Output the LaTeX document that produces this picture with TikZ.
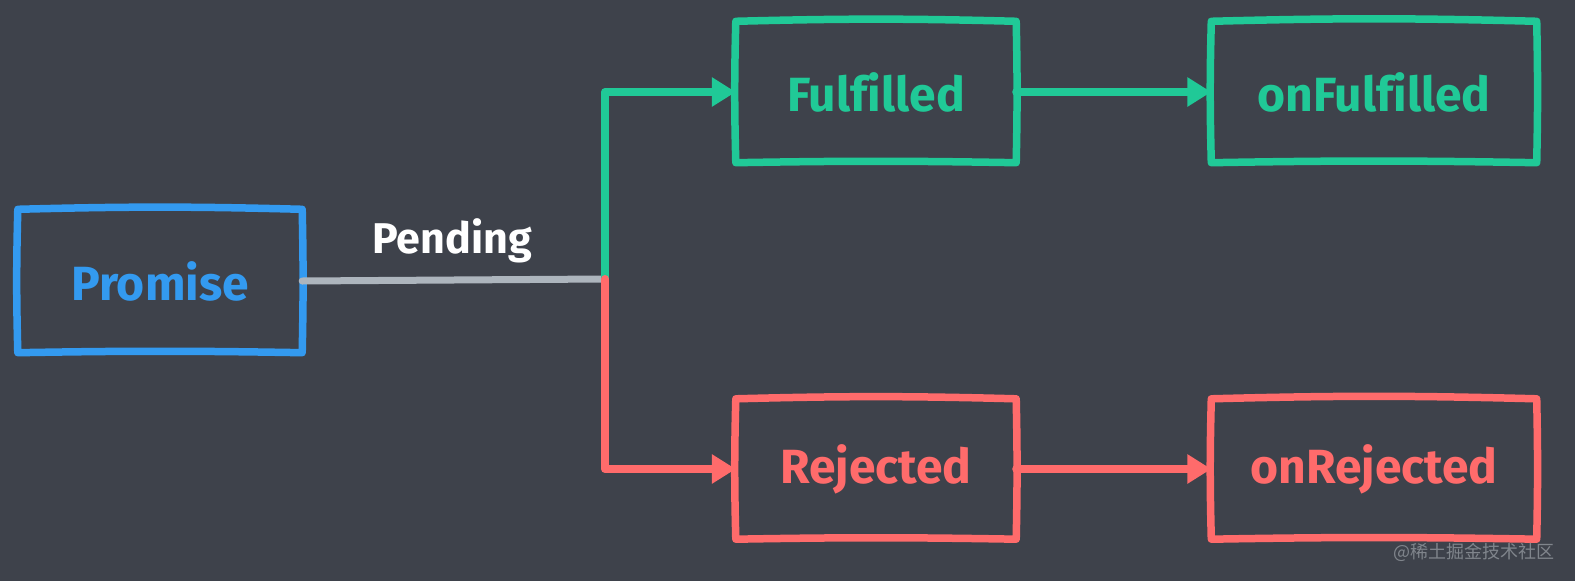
\documentclass[tikz,border=0pt]{standalone}
\usepackage{fontspec}
\setmainfont{Fira Sans}[Ligatures=NoCommon]
\newfontfamily\cjkfont{Noto Sans CJK SC}
\usetikzlibrary{arrows.meta}

\definecolor{bgdark}{HTML}{3E424B}
\definecolor{promblue}{HTML}{339AF0}
\definecolor{okgreen}{HTML}{20C997}
\definecolor{errred}{HTML}{FF6B6B}
\definecolor{linegray}{HTML}{ADB5BD}
\definecolor{markgray}{HTML}{80858C}

% hand drawn frame round a named node
\newcommand{\sketchbox}[2]{%
  \draw[#2,line width=7.5pt] (#1.north west) to[bend left=1.5] (#1.north east)
    to[bend left=1.2] (#1.south east) to[bend right=1] (#1.south west)
    to[bend left=1.5] (#1.north west);}

\begin{document}
\begin{tikzpicture}[x=1pt,y=-1pt,line cap=round,line join=round,
  >={Triangle[length=24pt,width=28pt]},
  state/.style={inner sep=0pt,font=\fontsize{48}{56}\selectfont\bfseries},
  link/.style={line width=8pt}]
  \fill[bgdark] (0,0) rectangle (1575,581);
  \useasboundingbox (0,0) rectangle (1575,581);
  \node[state,promblue,minimum width=284pt,minimum height=143pt] (promise) at (160,281) {Promise};
  \node[state,okgreen,minimum width=280pt,minimum height=141pt] (fulfilled) at (876,92) {Fulfilled};
  \node[state,okgreen,minimum width=325pt,minimum height=141pt] (onfulfilled) at (1374,92) {onFulfilled};
  \node[state,errred,minimum width=280pt,minimum height=140pt] (rejected) at (876,469) {Rejected};
  \node[state,errred,minimum width=325pt,minimum height=140pt] (onrejected) at (1374,469) {onRejected};
  \sketchbox{promise}{promblue}
  \sketchbox{fulfilled}{okgreen}
  \sketchbox{onfulfilled}{okgreen}
  \sketchbox{rejected}{errred}
  \sketchbox{onrejected}{errred}
  \coordinate (fork) at (605,279);
  \draw[link,linegray,line width=7pt] (promise.east) -- (fork);
  \node[state,white,font=\fontsize{43}{50}\selectfont\bfseries] (pending) at (452,241) {Pending};
  \draw[link,okgreen,->] (fork) |- (fulfilled.west);
  \draw[link,errred,->] (fork) |- (rejected.west);
  \draw[link,okgreen,->] (fulfilled.east) -- (onfulfilled.west);
  \draw[link,errred,->] (rejected.east) -- (onrejected.west);
  \node[markgray,inner sep=0pt,font=\cjkfont\fontsize{18}{20}\selectfont] (mark) at (1474,552) {@稀土掘金技术社区};
\end{tikzpicture}
\end{document}
